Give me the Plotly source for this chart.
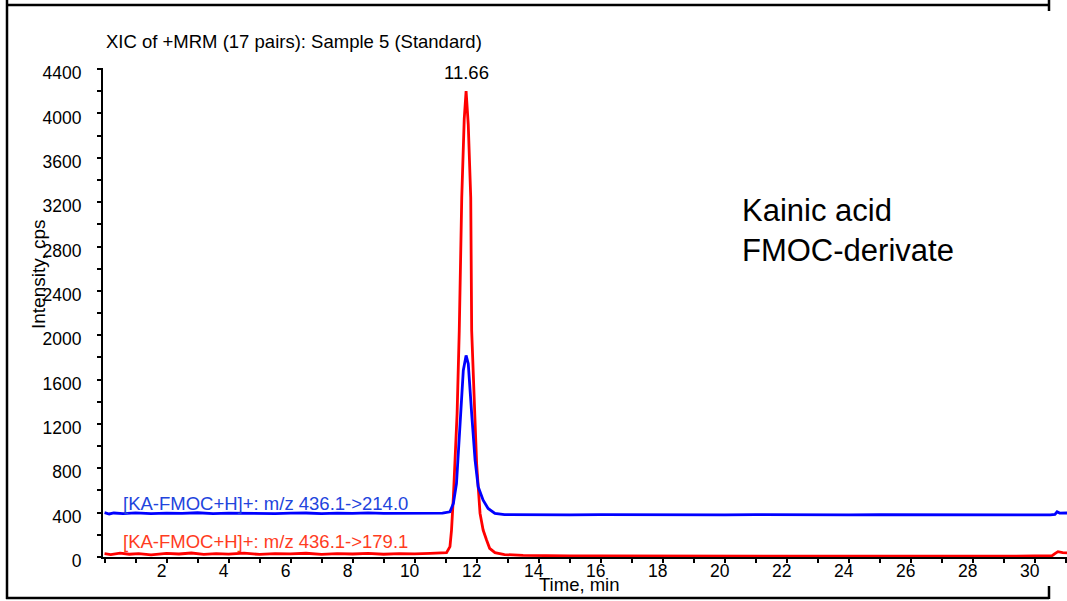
import plotly.graph_objects as go

# ---------------- data ----------------
blue_time = [0.00, 0.15, 0.30, 0.60, 1.00, 1.50, 2.00, 2.50, 3.00, 3.50, 4.00, 4.50, 5.00,
             5.50, 6.00, 6.50, 7.00, 7.50, 8.00, 8.50, 9.00, 9.50, 10.00, 10.50, 10.90,
             11.14, 11.25, 11.35, 11.46, 11.57, 11.66, 11.73, 11.84, 11.95, 12.05, 12.21,
             12.37, 12.59, 12.90, 13.50, 14.00, 15.00, 16.00, 17.00, 18.00, 19.00, 20.00,
             21.00, 22.00, 23.00, 24.00, 25.00, 26.00, 27.00, 28.00, 29.00, 30.00, 30.50,
             30.65, 30.72, 30.80, 31.00, 31.10]
blue_int = [400, 388, 397, 392, 398, 391, 396, 393, 399, 392, 396, 394, 398,
            391, 395, 397, 392, 396, 393, 398, 394, 396, 392, 397, 395,
            408, 483, 663, 1143, 1683, 1818, 1743, 1293, 873, 633, 513,
            438, 393, 382, 380, 381, 379, 382, 380, 381, 379, 380,
            382, 380, 381, 379, 381, 380, 382, 381, 380, 381, 380,
            384, 408, 396, 399, 397]

red_time = [0.00, 0.20, 0.50, 0.80, 1.10, 1.50, 2.00, 2.40, 2.80, 3.20, 3.60, 4.00, 4.50,
            5.00, 5.50, 6.00, 6.50, 7.00, 7.50, 8.00, 8.50, 9.00, 9.50, 10.00, 10.50,
            11.03, 11.14, 11.19, 11.25, 11.30, 11.37, 11.44, 11.52, 11.60, 11.66, 11.73,
            11.81, 11.84, 11.91, 12.00, 12.11, 12.21, 12.32, 12.42, 12.59, 12.90, 13.50,
            14.00, 15.00, 16.00, 18.00, 20.00, 22.00, 24.00, 26.00, 28.00, 30.00, 30.55,
            30.65, 30.75, 30.90, 31.10]
red_int = [30, 22, 34, 25, 31, 20, 33, 27, 36, 24, 30, 26, 35,
           23, 31, 28, 34, 24, 30, 27, 33, 25, 31, 28, 32,
           39, 93, 243, 543, 843, 1293, 2043, 3242, 3950, 4202, 3900,
           3242, 2043, 1442, 843, 393, 243, 153, 78, 39, 22, 15,
           12, 10, 9, 8, 8, 8, 9, 8, 8, 9, 10,
           30, 48, 40, 35]

blue_name = "[KA-FMOC+H]+: m/z 436.1->214.0"
red_name = "[KA-FMOC+H]+: m/z 436.1->179.1"
title_text = "XIC of +MRM (17 pairs): Sample 5 (Standard)"
peak_label = "11.66"
peak_time = 11.66
x_ticks = [2, 4, 6, 8, 10, 12, 14, 16, 18, 20, 22, 24, 26, 28, 30]
y_ticks = [0, 400, 800, 1200, 1600, 2000, 2400, 2800, 3200, 3600, 4000, 4400]

# ---------------- layout helpers (pixel -> paper) ----------------
W, H = 1067, 601
L, R, T, B = 103, 0, 68, 44
PW, PH = W - L - R, H - T - B


def px(xp):
    return (xp - L) / PW


def py(yp):
    return (H - B - yp) / PH


FONT = "Arial, Liberation Sans, sans-serif"

fig = go.Figure()
fig.add_trace(go.Scatter(x=red_time, y=red_int, mode="lines",
                         line=dict(color="#ff0000", width=2.8), name=red_name))
fig.add_trace(go.Scatter(x=blue_time, y=blue_int, mode="lines",
                         line=dict(color="#0000ff", width=2.8), name=blue_name))

fig.update_layout(
    width=W, height=H,
    margin=dict(l=L, r=R, t=T, b=B, pad=0),
    paper_bgcolor="white", plot_bgcolor="white",
    showlegend=False,
    font=dict(family=FONT, size=18, color="black"),
    xaxis=dict(range=[-0.05, 31.04], tickvals=x_ticks, ticks="outside", ticklen=4,
               tickwidth=1.5, tickcolor="black", showline=True, linecolor="black",
               linewidth=2, showgrid=False, zeroline=False,
               minor=dict(dtick=1, tick0=0, ticks="outside", ticklen=4, tickwidth=1.5,
                          tickcolor="black", showgrid=False),
               tickfont=dict(size=17.5), ticklabelshift=-5, ticklabelstandoff=-7),
    yaxis=dict(range=[0, 4410], tickvals=y_ticks, ticks="outside", ticklen=4,
               tickwidth=1.5, tickcolor="black", showline=True, linecolor="black",
               linewidth=2, showgrid=False, zeroline=False,
               minor=dict(dtick=200, tick0=0, ticks="outside", ticklen=4, tickwidth=1.5,
                          tickcolor="black", showgrid=False),
               tickfont=dict(size=17.5), ticklabelstandoff=12, ticklabelshift=4),
)

ann = [
    dict(text=title_text, x=px(104), y=py(42), xanchor="left", yanchor="middle",
         font=dict(size=18.5)),
    dict(text=peak_label, x=peak_time, y=py(72), xref="x", xanchor="center",
         yanchor="middle", font=dict(size=18.5)),
    dict(text="Intensity, cps", x=px(38), y=py(275), textangle=-90, xanchor="center",
         yanchor="middle", font=dict(size=19)),
    dict(text="Time, min", x=px(579), y=py(584), xanchor="center", yanchor="middle",
         font=dict(size=18.5)),
    dict(text="Kainic acid<br>FMOC-derivate", x=px(740), y=py(230), xanchor="left",
         yanchor="middle", align="left", font=dict(size=31)),
    dict(text=blue_name, x=px(121), y=py(503), xanchor="left", yanchor="middle",
         font=dict(size=18.5, color="#2244dd")),
    dict(text=red_name, x=px(121), y=py(541), xanchor="left", yanchor="middle",
         font=dict(size=18.5, color="#ff3c1e")),
]
for a in ann:
    a.setdefault("xref", "paper")
    a["yref"] = "paper"
    a["showarrow"] = False
fig.update_layout(annotations=ann)

# outer frame (cropped report box)
frame = [
    (px(7), py(0), px(7), py(599)),
    (px(6), py(5), px(1049), py(5)),
    (px(1049), py(0), px(1049), py(11)),
    (px(6), py(598), px(1049), py(598)),
    (px(1049), py(586), px(1049), py(599)),
]
shapes = [dict(type="line", xref="paper", yref="paper", x0=a, y0=b, x1=c, y1=d,
               line=dict(color="black", width=2.5)) for a, b, c, d in frame]
fig.update_layout(shapes=shapes)

fig.write_html("out.html")
